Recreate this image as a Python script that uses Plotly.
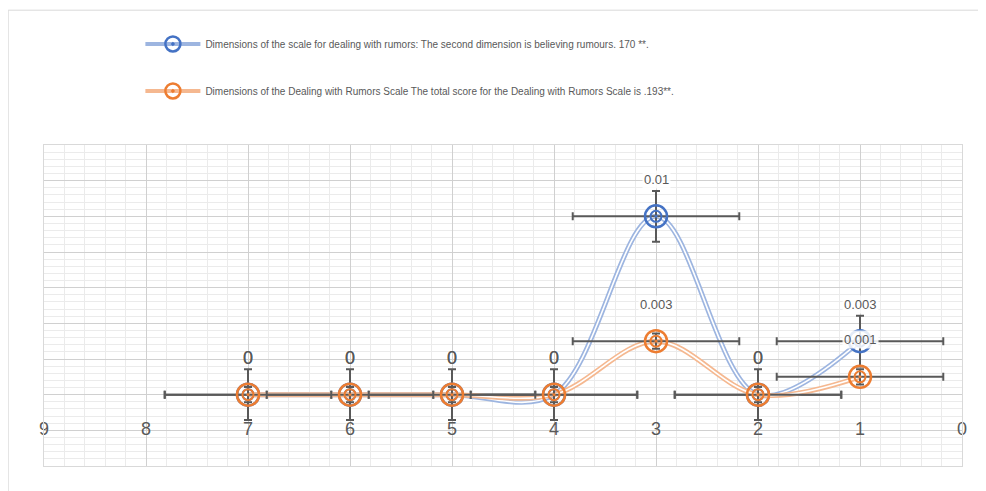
import statistics
import plotly.graph_objects as go

# data
x_vals = [7, 6, 5, 4, 3, 2, 1]
believing = [0, 0, 0, 0, 0.01, 0, 0.003]
total_score = [0, 0, 0, 0, 0.003, 0, 0.001]
x_ticks = [9, 8, 7, 6, 5, 4, 3, 2, 1, 0]

name_blue = "Dimensions of the scale for dealing with rumors: The second dimension is believing rumours. 170 **."
name_orange = "Dimensions of the Dealing with Rumors Scale The total score for the Dealing with Rumors Scale is .193**."

grey = "#595959"

def std_err(v):
    return statistics.stdev(v) / len(v) ** 0.5

se_x = std_err(x_vals)

fig = go.Figure()

series = [
    (name_blue, believing, "#4472C4", "#9DB5E0"),
    (name_orange, total_score, "#ED7D31", "#F5B890"),
]

for name, ys, mcol, lcol in series:
    se_y = std_err(ys)
    # double line: coloured wide line with a thin white core
    fig.add_trace(go.Scatter(x=x_vals, y=ys, mode="lines", line=dict(color=lcol, width=5, shape="spline"),
                             showlegend=False, hoverinfo="skip"))
    fig.add_trace(go.Scatter(x=x_vals, y=ys, mode="lines", line=dict(color="white", width=1.6, shape="spline"),
                             showlegend=False, hoverinfo="skip"))
    # markers with error bars
    fig.add_trace(go.Scatter(
        x=x_vals, y=ys, mode="markers", showlegend=False,
        marker=dict(symbol="circle-open", size=22, color=mcol, line=dict(color=mcol, width=2.5)),
        error_x=dict(type="data", array=[se_x] * len(x_vals), color=grey, thickness=2, width=4),
        error_y=dict(type="data", array=[se_y] * len(ys), color=grey, thickness=2, width=4),
    ))
    fig.add_trace(go.Scatter(x=x_vals, y=ys, mode="markers", showlegend=False, hoverinfo="skip",
                             marker=dict(symbol="circle-open-dot", size=11, color=mcol,
                                         line=dict(color=mcol, width=2))))
    # legend entry
    fig.add_trace(go.Scatter(x=[None], y=[None], mode="lines+markers", name=name, legendgroup=name,
                             line=dict(color=lcol, width=4),
                             marker=dict(symbol="circle-open-dot", size=15, color=mcol,
                                         line=dict(color=mcol, width=2.5))))
    for xv, yv in zip(x_vals, ys):
        txt = f"{yv:g}"
        big = txt == "0"
        fig.add_annotation(x=xv, y=yv, text=txt, showarrow=False, yshift=37,
                           bgcolor=None if big else "rgba(255,255,255,0.85)", borderpad=1,
                           font=dict(size=18 if big else 13, color=grey))

# tick labels along the -0.002 line
fig.add_trace(go.Scatter(x=x_ticks, y=[-0.002] * len(x_ticks), mode="text", text=[str(t) for t in x_ticks],
                         textfont=dict(size=18, color=grey), showlegend=False, hoverinfo="skip", cliponaxis=False))

# outer chart border
fig.add_shape(type="rect", xref="paper", yref="paper", x0=-0.039, x1=1.05, y0=-0.3, y1=1.42,
              line=dict(color="#D9D9D9", width=1))

fig.update_xaxes(range=[9, 0], dtick=1, showticklabels=False, showgrid=True, gridcolor="#D0D0D0", gridwidth=1,
                 zeroline=False, showline=True, mirror=True, linecolor="#D9D9D9",
                 minor=dict(dtick=0.2, showgrid=True, gridcolor="#EBEBEB"))
fig.update_yaxes(range=[-0.004, 0.014], dtick=0.002, showticklabels=False, showgrid=True, gridcolor="#D0D0D0",
                 zeroline=False, showline=True, mirror=True, linecolor="#D9D9D9",
                 minor=dict(dtick=0.0004, showgrid=True, gridcolor="#EBEBEB"))

fig.update_layout(
    width=978, height=483,
    margin=dict(l=36, r=24, t=137, b=25),
    paper_bgcolor="white", plot_bgcolor="white",
    font=dict(family="Liberation Sans, Arial, sans-serif", color=grey),
    legend=dict(x=0.105, y=1.36, xanchor="left", yanchor="top", font=dict(size=10, color=grey),
                itemwidth=55, tracegroupgap=28, bgcolor="rgba(0,0,0,0)"),
)

fig.write_html("out.html")
